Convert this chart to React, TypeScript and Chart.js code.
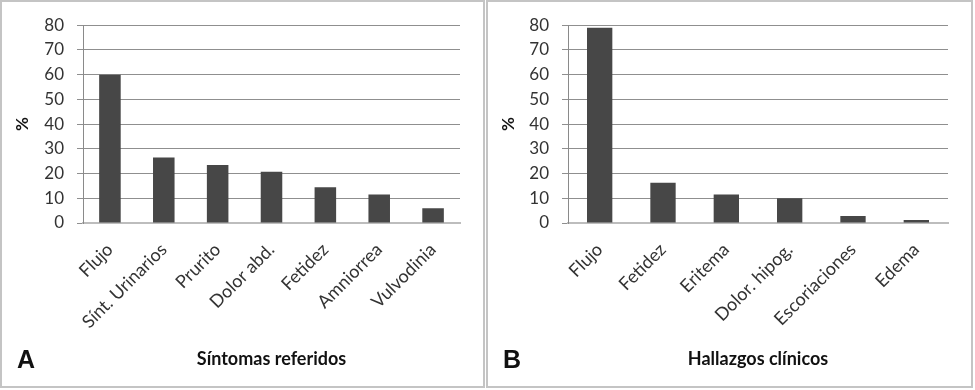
import React, { useEffect, useRef } from "react";
import { Chart, registerables } from "chart.js";

Chart.register(...registerables);

const categoriesA = ["Flujo", "Sínt. Urinarios", "Prurito", "Dolor abd.", "Fetidez", "Amniorrea", "Vulvodinia"];
const valuesA = [60, 26.5, 23.5, 20.7, 14.5, 11.5, 6];
const categoriesB = ["Flujo", "Fetidez", "Eritema", "Dolor. hipog.", "Escoriaciones", "Edema"];
const valuesB = [79, 16.3, 11.5, 10, 2.8, 1.2];
const yMin = 0;
const yMax = 80;
const yStep = 10;
const titleA = "Síntomas referidos";
const titleB = "Hallazgos clínicos";
const letterA = "A";
const letterB = "B";
const yTitle = "%";

const FONT = "Lato, 'Open Sans', sans-serif";

type PanelProps = {
  labels: string[];
  values: number[];
  title: string;
  letter: string;
  left: number;
  width: number;
  area: { left: number; right: number; top: number; bottom: number };
};

function Panel({ labels, values, title, letter, left, width, area }: PanelProps) {
  const ref = useRef<HTMLCanvasElement | null>(null);
  const border = 2;
  const outerH = 388;
  const innerW = width - border * 2;
  const innerH = outerH - border * 2;

  useEffect(() => {
    if (!ref.current) return;
    const letterPlugin = {
      id: "letter",
      afterDraw(chart: any) {
        const ctx = chart.ctx;
        ctx.save();
        ctx.fillStyle = "#111";
        ctx.font = "bold 25px 'Liberation Sans', Arial, sans-serif";
        ctx.textBaseline = "alphabetic";
        ctx.textAlign = "left";
        ctx.fillText(letter, 15, 366);
        ctx.restore();
      },
    };
    const chart = new Chart(ref.current, {
      type: "bar",
      data: {
        labels,
        datasets: [
          {
            data: values,
            backgroundColor: "#474747",
            borderWidth: 0,
            barPercentage: 0.4,
            categoryPercentage: 1,
          },
        ],
      },
      options: {
        animation: false,
        responsive: false,
        maintainAspectRatio: false,
        layout: {
          padding: { left: 0, top: area.top, right: innerW - area.right, bottom: 0 },
        },
        plugins: {
          legend: { display: false },
          tooltip: { enabled: false },
        },
        scales: {
          x: {
            grid: { display: false, drawTicks: false },
            border: { display: true, color: "#bdbdbd", width: 2 },
            ticks: {
              minRotation: 45,
              maxRotation: 45,
              autoSkip: false,
              padding: 16,
              color: "#333",
              font: { family: FONT, size: 18 },
            },
            title: {
              display: true,
              text: title,
              color: "#111",
              font: { family: FONT, size: 18, weight: "bold" },
              padding: { top: 0, bottom: 16 },
            },
            afterFit: (s: any) => {
              s.height = innerH - area.bottom;
            },
          },
          y: {
            min: yMin,
            max: yMax,
            grid: { color: "#8f8f8f", lineWidth: 1, tickLength: 6, drawTicks: true },
            border: { display: true, color: "#8a8a8a", width: 1 },
            ticks: {
              stepSize: yStep,
              padding: 13,
              color: "#333",
              font: { family: FONT, size: 17 },
            },
            title: {
              display: true,
              text: yTitle,
              color: "#111",
              font: { family: FONT, size: 17, weight: "bold" },
              padding: { top: 10, bottom: 0 },
            },
            afterFit: (s: any) => {
              s.width = area.left;
            },
          },
        },
      },
      plugins: [letterPlugin],
    });
    return () => chart.destroy();
  }, []);

  return (
    <div
      style={{
        position: "absolute",
        left,
        top: 0,
        width: innerW,
        height: innerH,
        border: `${border}px solid #c4c4c4`,
        background: "#fff",
      }}
    >
      <canvas ref={ref} width={innerW} height={innerH} style={{ display: "block", width: innerW, height: innerH }} />
    </div>
  );
}

export default function App() {
  return (
    <div style={{ position: "absolute", left: 0, top: 0, width: 975, height: 390, background: "#fff" }}>
      <Panel
        labels={categoriesA}
        values={valuesA}
        title={titleA}
        letter={letterA}
        left={0}
        width={485}
        area={{ left: 81, right: 458, top: 23, bottom: 221 }}
      />
      <Panel
        labels={categoriesB}
        values={valuesB}
        title={titleB}
        letter={letterB}
        left={486}
        width={487}
        area={{ left: 80, right: 460, top: 23, bottom: 221 }}
      />
    </div>
  );
}
